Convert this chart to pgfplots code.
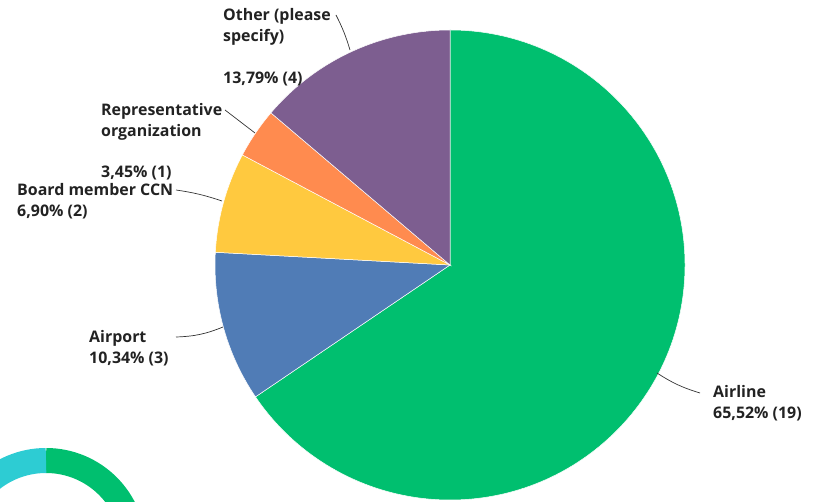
\documentclass[border=0pt]{standalone}
\usepackage{pgfplots}
\usepackage{pgfplotstable}
\pgfplotsset{compat=1.18}
\usepackage{fontspec}
\setmainfont{Open Sans}

\definecolor{cairline}{HTML}{00BF6F}
\definecolor{cairport}{HTML}{507CB6}
\definecolor{cboard}{HTML}{FFC93F}
\definecolor{crep}{HTML}{FF8B4F}
\definecolor{cother}{HTML}{7D5E90}
\definecolor{cteal}{HTML}{2DCCD3}
\definecolor{ctext}{HTML}{222222}
\definecolor{cleader}{HTML}{333333}

% answers, clockwise from 12 o'clock
\pgfplotstableread{
label value
Airline 19
Airport 3
Board 2
Representative 1
Other 4
}\pietable
\def\pietotal{29}

\begin{document}
\begin{tikzpicture}
\begin{axis}[
    width=819bp, height=502bp,
    scale only axis,
    xmin=0, xmax=819,
    ymin=0, ymax=502,
    hide axis,
    clip=true,
]
% wedges
\pgfplotsextra{%
  \gdef\angstart{90}%
  \foreach \i/\col in {0/cairline,1/cairport,2/cboard,3/crep,4/cother}{%
    \pgfplotstablegetelem{\i}{value}\of\pietable
    \pgfmathsetmacro\angend{\angstart-360*\pgfplotsretval/\pietotal}%
    \fill[\col,draw=white,line width=0.5pt] (axis cs:450,237) -- ++(\angstart:235bp)
      arc[start angle=\angstart,end angle=\angend,radius=235bp] -- cycle;
    \xdef\angstart{\angend}%
  }%
  % piece of the next chart, cut off at the corner
  \draw[cairline,line width=25bp] (axis cs:46,-46) ++(90:87.5bp)
    arc[start angle=90,end angle=-180,radius=87.5bp];
  \draw[cteal,line width=25bp] (axis cs:46,-46) ++(90:87.5bp)
    arc[start angle=90,end angle=180,radius=87.5bp];
}

% leader lines
\draw[cleader,line width=0.7pt] (axis cs:336,487) to[bend left=5] (axis cs:350,452);
\draw[cleader,line width=0.7pt] (axis cs:225,392) -- (axis cs:255,369);
\draw[cleader,line width=0.7pt] (axis cs:176,312) to[bend left=5] (axis cs:222,301);
\draw[cleader,line width=0.7pt] (axis cs:176,165) to[bend right=10] (axis cs:223,175);
\draw[cleader,line width=0.7pt] (axis cs:657,129) to[bend right=8] (axis cs:700,109);

% labels
\tikzset{lab/.style={anchor=base west,inner sep=0pt,text=ctext,
    font=\fontsize{16}{19}\selectfont\bfseries}}
\node[lab] at (axis cs:223,481) {Other (please};
\node[lab] at (axis cs:223,460) {specify)};
\node[lab] at (axis cs:223,418) {13,79\% (4)};
\node[lab] at (axis cs:101,386) {Representative};
\node[lab] at (axis cs:101,365) {organization};
\node[lab] at (axis cs:101,324) {3,45\% (1)};
\node[lab] at (axis cs:17,306) {Board member CCN};
\node[lab] at (axis cs:17,285) {6,90\% (2)};
\node[lab] at (axis cs:89,159) {Airport};
\node[lab] at (axis cs:89,138) {10,34\% (3)};
\node[lab] at (axis cs:713,104) {Airline};
\node[lab] at (axis cs:713,83) {65,52\% (19)};
\end{axis}
\pgfresetboundingbox
\useasboundingbox (current axis.south west) rectangle (current axis.north east);
\end{tikzpicture}
\end{document}
